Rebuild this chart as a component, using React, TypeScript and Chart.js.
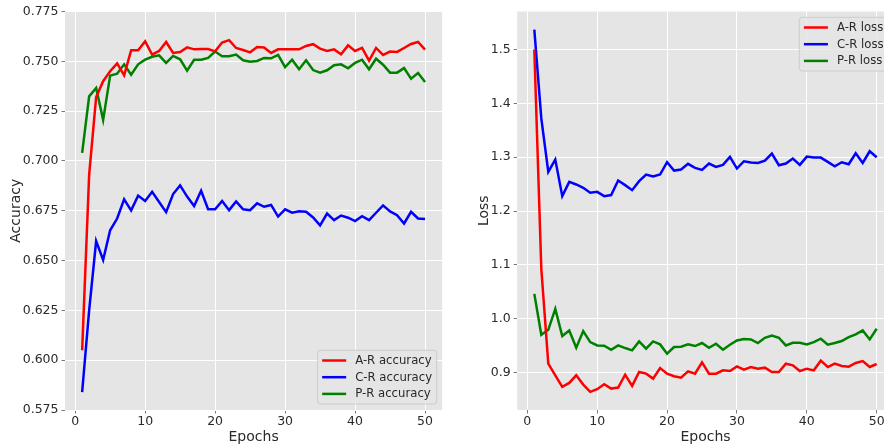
import React, { useEffect, useRef } from 'react';
import { Chart, registerables } from 'chart.js';

Chart.register(...registerables);

const FONT = '"DejaVu Sans", sans-serif';

const epochs = [1, 2, 3, 4, 5, 6, 7, 8, 9, 10, 11, 12, 13, 14, 15, 16, 17, 18, 19, 20, 21, 22, 23, 24, 25, 26, 27, 28, 29, 30, 31, 32, 33, 34, 35, 36, 37, 38, 39, 40, 41, 42, 43, 44, 45, 46, 47, 48, 49, 50];

const accAR = [0.605, 0.693, 0.732, 0.740, 0.745, 0.749, 0.743, 0.7555, 0.7555, 0.760, 0.7534, 0.7552, 0.7597, 0.7542, 0.7547, 0.757, 0.756, 0.7562, 0.7562, 0.755, 0.7594, 0.7606, 0.7567, 0.7557, 0.7545, 0.7572, 0.7569, 0.7542, 0.756, 0.756, 0.756, 0.756, 0.7577, 0.7586, 0.7564, 0.7552, 0.756, 0.7535, 0.758, 0.7552, 0.7567, 0.7503, 0.7567, 0.7532, 0.7549, 0.7547, 0.7567, 0.7587, 0.7597, 0.7559];
const accCR = [0.584, 0.625, 0.6598, 0.6503, 0.6652, 0.6711, 0.6807, 0.6752, 0.6826, 0.6799, 0.6845, 0.6794, 0.6743, 0.6834, 0.6877, 0.6821, 0.6774, 0.685, 0.6758, 0.6757, 0.6799, 0.6753, 0.6797, 0.6757, 0.6753, 0.6787, 0.677, 0.6779, 0.6721, 0.6757, 0.674, 0.6747, 0.6745, 0.6716, 0.6677, 0.6736, 0.6703, 0.6726, 0.6715, 0.6698, 0.6723, 0.6703, 0.674, 0.6777, 0.6747, 0.6728, 0.6686, 0.6745, 0.6711, 0.6708];
const accPR = [0.704, 0.7324, 0.7366, 0.7206, 0.7428, 0.7438, 0.7485, 0.7433, 0.7485, 0.7508, 0.7523, 0.753, 0.7492, 0.7527, 0.751, 0.7453, 0.7508, 0.7508, 0.7517, 0.7549, 0.7525, 0.7525, 0.7534, 0.7505, 0.7498, 0.7502, 0.7517, 0.7515, 0.7532, 0.7471, 0.7508, 0.746, 0.7505, 0.7456, 0.7443, 0.7455, 0.748, 0.7485, 0.7465, 0.7492, 0.7508, 0.746, 0.7513, 0.7483, 0.7443, 0.7443, 0.7466, 0.7413, 0.7441, 0.7396];

const lossAR = [1.50, 1.093, 0.9167, 0.8951, 0.8735, 0.8809, 0.8951, 0.8778, 0.8643, 0.8692, 0.8785, 0.8704, 0.8723, 0.8963, 0.8754, 0.9013, 0.8982, 0.8889, 0.9087, 0.8982, 0.8933, 0.8908, 0.9025, 0.8982, 0.919, 0.8982, 0.8982, 0.9043, 0.9031, 0.9117, 0.9056, 0.9105, 0.9074, 0.9093, 0.9013, 0.9013, 0.9167, 0.9136, 0.9031, 0.9074, 0.9043, 0.9223, 0.9105, 0.9167, 0.9124, 0.9111, 0.918, 0.9216, 0.9105, 0.9161];
const lossCR = [1.537, 1.372, 1.2729, 1.2957, 1.2278, 1.2543, 1.2494, 1.2432, 1.234, 1.2358, 1.2278, 1.2297, 1.2568, 1.2482, 1.2389, 1.2556, 1.2679, 1.2642, 1.2679, 1.2907, 1.2753, 1.2772, 1.2877, 1.2803, 1.2766, 1.2883, 1.2821, 1.2858, 1.3006, 1.279, 1.2926, 1.2901, 1.2895, 1.2938, 1.3068, 1.2852, 1.2883, 1.2975, 1.2858, 1.3012, 1.2994, 1.2994, 1.2914, 1.2833, 1.2907, 1.287, 1.3074, 1.2895, 1.3111, 1.3];
const lossPR = [1.0463, 0.9704, 0.9796, 1.0185, 0.9679, 0.9784, 0.9463, 0.9772, 0.9568, 0.9506, 0.95, 0.9426, 0.9506, 0.9457, 0.9414, 0.958, 0.9445, 0.958, 0.9525, 0.9352, 0.9476, 0.9482, 0.9525, 0.9494, 0.955, 0.9463, 0.9537, 0.9426, 0.9519, 0.9599, 0.9624, 0.9617, 0.955, 0.9648, 0.9691, 0.9648, 0.9506, 0.9556, 0.9556, 0.9525, 0.9568, 0.963, 0.9519, 0.955, 0.9587, 0.9661, 0.971, 0.9784, 0.9617, 0.9815];

const accLabels = ['A-R accuracy', 'C-R accuracy', 'P-R accuracy'];
const lossLabels = ['A-R loss', 'C-R loss', 'P-R loss'];
const seriesColors = ['#ff0000', '#0000ff', '#008000'];

const TEXT = '#2a2a2a';

const plotBg = {
  id: 'plotBg',
  beforeDraw(chart: any) {
    const { ctx, chartArea: a } = chart;
    ctx.save();
    ctx.fillStyle = '#E5E5E5';
    ctx.fillRect(a.left, a.top, a.right - a.left, a.bottom - a.top);
    ctx.restore();
  },
};

const insideLegend = {
  id: 'insideLegend',
  afterDraw(chart: any, _args: any, opts: any) {
    const { ctx, chartArea: a } = chart;
    const fs = 11.7;
    ctx.save();
    ctx.font = `${fs}px ${FONT}`;
    const items = chart.data.datasets.map((d: any) => ({ label: d.label, color: d.borderColor }));
    const pad = 4.6;
    const handle = 24;
    const gap = 9;
    const rowH = 16.7;
    const tw = Math.max(...items.map((i: any) => ctx.measureText(i.label).width));
    const w = pad + handle + gap + tw + pad;
    const h = rowH * items.length + 3.6;
    const x = a.right - 5.5 - w;
    const y = opts.corner === 'lower' ? a.bottom - 6 - h : a.top + 5.8;
    ctx.beginPath();
    if (ctx.roundRect) ctx.roundRect(x, y, w, h, 3);
    else ctx.rect(x, y, w, h);
    ctx.fillStyle = 'rgba(229,229,229,0.8)';
    ctx.fill();
    ctx.lineWidth = 1;
    ctx.strokeStyle = '#cccccc';
    ctx.stroke();
    items.forEach((it: any, i: number) => {
      const cy = y + 10.2 + i * rowH;
      ctx.beginPath();
      ctx.moveTo(x + pad, cy);
      ctx.lineTo(x + pad + handle, cy);
      ctx.strokeStyle = it.color;
      ctx.lineWidth = 2.5;
      ctx.stroke();
      ctx.fillStyle = TEXT;
      ctx.textBaseline = 'middle';
      ctx.textAlign = 'left';
      ctx.fillText(it.label, x + pad + handle + gap, cy + 0.5);
    });
    ctx.restore();
  },
};

type PanelProps = {
  left: number;
  width: number;
  yAxisWidth: number;
  rightPad: number;
  titlePad: number;
  yTitle: string;
  labels: string[];
  series: number[][];
  yMin: number;
  yMax: number;
  yStep: number;
  decimals: number;
  corner: string;
};

function Panel(p: PanelProps) {
  const ref = useRef<HTMLCanvasElement | null>(null);
  useEffect(() => {
    if (!ref.current) return;
    const xMin = epochs[0] - (epochs[epochs.length - 1] - epochs[0]) * 0.05;
    const xMax = epochs[epochs.length - 1] + (epochs[epochs.length - 1] - epochs[0]) * 0.05;
    const chart = new Chart(ref.current, {
      type: 'line',
      data: {
        datasets: p.series.map((vals, i) => ({
          label: p.labels[i],
          data: epochs.map((e, j) => ({ x: e, y: vals[j] })),
          borderColor: seriesColors[i],
          backgroundColor: seriesColors[i],
          borderWidth: 2.5,
          pointRadius: 0,
          tension: 0,
          fill: false,
        })),
      },
      options: {
        animation: false,
        responsive: false,
        maintainAspectRatio: false,
        layout: { padding: { left: 0, right: p.rightPad, top: 11.5, bottom: 0 } },
        plugins: {
          legend: { display: false },
          tooltip: { enabled: false },
          insideLegend: { corner: p.corner },
        } as any,
        scales: {
          x: {
            type: 'linear',
            min: xMin,
            max: xMax,
            afterFit: (s: any) => { s.height = 34; },
            ticks: {
              stepSize: 10,
              includeBounds: false,
              padding: 1,
              color: TEXT,
              font: { family: FONT, size: 12.5 },
              callback: (v: any) => String(v),
            },
            grid: { color: '#ffffff', lineWidth: 1, tickColor: '#555555', tickLength: 3.5, tickWidth: 0.8 },
            border: { display: false },
            title: {
              display: true,
              text: 'Epochs',
              color: TEXT,
              font: { family: FONT, size: 14 },
              padding: { top: 0, bottom: -1.5 },
            },
          },
          y: {
            type: 'linear',
            min: p.yMin,
            max: p.yMax,
            afterFit: (s: any) => { s.width = p.yAxisWidth; },
            ticks: {
              stepSize: p.yStep,
              includeBounds: false,
              padding: 3,
              color: TEXT,
              font: { family: FONT, size: 12.5 },
              callback: (v: any) => Number(v).toFixed(p.decimals),
            },
            grid: { color: '#ffffff', lineWidth: 1, tickColor: '#555555', tickLength: 3.5, tickWidth: 0.8 },
            border: { display: false },
            title: {
              display: true,
              text: p.yTitle,
              color: TEXT,
              font: { family: FONT, size: 14 },
              padding: { top: p.titlePad, bottom: 0 },
            },
          },
        },
      } as any,
      plugins: [plotBg, insideLegend],
    });
    return () => chart.destroy();
  }, []);
  return (
    <canvas
      ref={ref}
      width={p.width}
      height={444}
      style={{ position: 'absolute', left: p.left, top: 0, width: p.width, height: 444 }}
    />
  );
}

function paddedRange(arrs: number[][]) {
  const all = arrs.flat();
  const lo = Math.min(...all);
  const hi = Math.max(...all);
  const m = (hi - lo) * 0.05;
  return [lo - m, hi + m];
}

export default function App() {
  const [lMin, lMax] = paddedRange([lossAR, lossCR, lossPR]);
  return (
    <div
      style={{
        position: 'fixed',
        left: 0,
        top: 0,
        width: 884,
        height: 444,
        overflow: 'hidden',
        background: '#ffffff',
      }}
    >
      <Panel
        left={0}
        width={452}
        yAxisWidth={65}
        rightPad={9.8}
        titlePad={7.6}
        yTitle="Accuracy"
        labels={accLabels}
        series={[accAR, accCR, accPR]}
        yMin={0.575}
        yMax={0.775}
        yStep={0.025}
        decimals={3}
        corner="lower"
      />
      <Panel
        left={452}
        width={450}
        yAxisWidth={65.2}
        rightPad={8.2}
        titlePad={24}
        yTitle="Loss"
        labels={lossLabels}
        series={[lossAR, lossCR, lossPR]}
        yMin={lMin}
        yMax={lMax}
        yStep={0.1}
        decimals={1}
        corner="upper"
      />
    </div>
  );
}
